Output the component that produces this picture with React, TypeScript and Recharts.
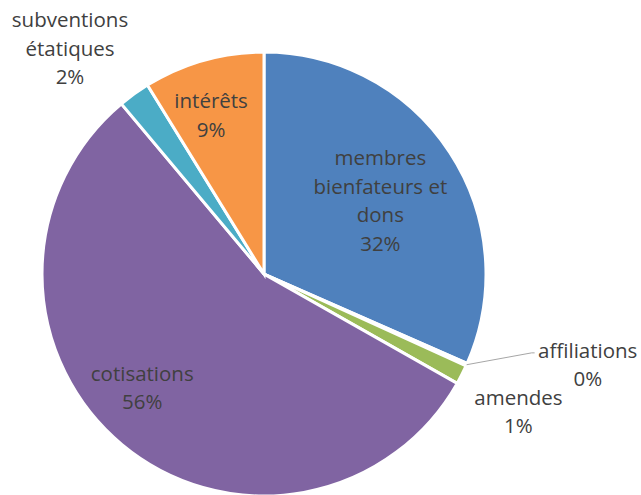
import { PieChart, Pie, Cell } from "recharts";

const categories = [
  "membres bienfateurs et dons",
  "affiliations",
  "amendes",
  "cotisations",
  "subventions étatiques",
  "intérêts",
];
const shares = [31.6, 0.2, 1.4, 55.7, 2.3, 8.8];
// how each category name wraps in the picture
const labelLines = [
  ["membres", "bienfateurs et", "dons"],
  ["affiliations"],
  ["amendes"],
  ["cotisations"],
  ["subventions", "étatiques"],
  ["intérêts"],
];

const COLORS = ["#4F81BD", "#C0504D", "#9BBB59", "#8064A2", "#4BACC6", "#F79646"];

// label placement: distance from centre and nudge from the slice's mid angle
const LABEL_RADIUS = [138, 336, 289, 166, 298, 168];
const LABEL_NUDGE = [-0.6, 8.6, -1.3, -7.4, 4.8, 2.5];
const LINE_HEIGHT = 28.5;
const RAD = Math.PI / 180;

const data = categories.map((name, i) => ({ name, value: shares[i] }));
const total = shares.reduce((a, b) => a + b, 0);

const renderLabel = (props: any) => {
  const { cx, cy, midAngle, index, outerRadius } = props;
  const a = (midAngle + LABEL_NUDGE[index]) * RAD;
  const r = LABEL_RADIUS[index];
  const x = cx + r * Math.cos(-a);
  const y = cy + r * Math.sin(-a);
  const lines = [...labelLines[index], `${Math.round((shares[index] / total) * 100)}%`];
  const top = y - ((lines.length - 1) * LINE_HEIGHT) / 2;

  let leader = null;
  if (index === 1) {
    const m = midAngle * RAD;
    const x1 = cx + outerRadius * Math.cos(-m);
    const y1 = cy + outerRadius * Math.sin(-m);
    const e = (midAngle + 7.7) * RAD;
    const x2 = cx + 279 * Math.cos(-e);
    const y2 = cy + 279 * Math.sin(-e);
    leader = <polyline points={`${x1},${y1} ${x2},${y2} ${x2 + 3},${y2}`} stroke="#A6A6A6" fill="none" strokeWidth={1} />;
  }

  return (
    <g>
      {leader}
      <text
        x={x}
        y={top}
        textAnchor="middle"
        dominantBaseline="central"
        fill="#404040"
        fontSize={20.5}
        fontFamily="'Open Sans', sans-serif"
      >
        {lines.map((l, i) => (
          <tspan key={i} x={x} dy={i === 0 ? 0 : LINE_HEIGHT}>
            {l}
          </tspan>
        ))}
      </text>
    </g>
  );
};

export default function App() {
  return (
    <div style={{ position: "absolute", left: 0, top: 0, width: 641, height: 495, background: "#fff" }}>
      <PieChart width={641} height={495} margin={{ top: 0, right: 0, bottom: 0, left: 0 }}>
        <Pie
          data={data}
          dataKey="value"
          nameKey="name"
          cx={264}
          cy={274}
          outerRadius={222}
          startAngle={90}
          endAngle={-270}
          stroke="#fff"
          strokeWidth={3}
          label={renderLabel}
          labelLine={false}
          isAnimationActive={false}
        >
          {data.map((entry, index) => (
            <Cell key={`cell-${index}`} fill={COLORS[index]} />
          ))}
        </Pie>
      </PieChart>
    </div>
  );
}
